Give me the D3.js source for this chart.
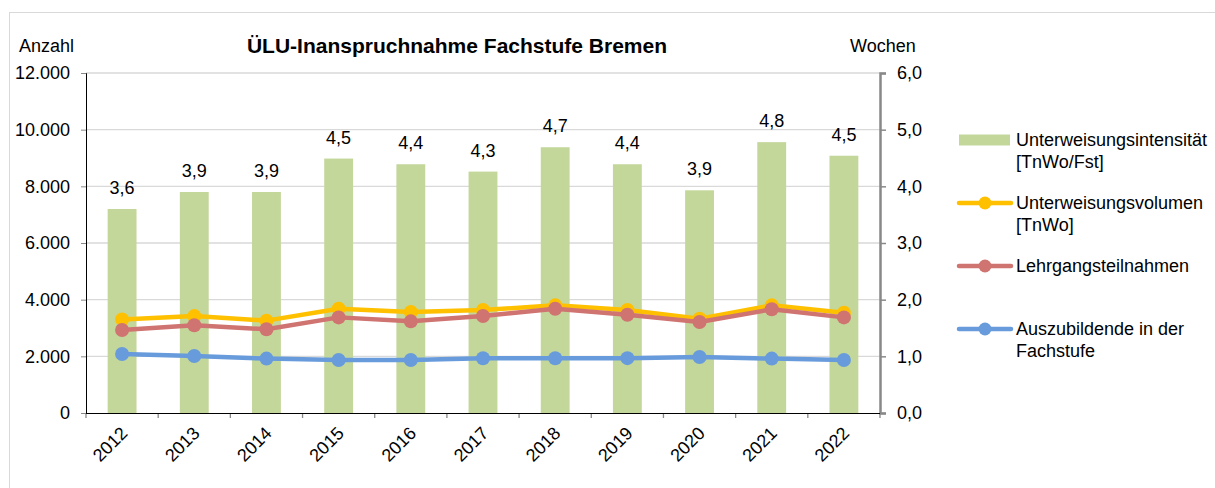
<!DOCTYPE html>
<html>
<head>
<meta charset="utf-8">
<script src="https://cdn.jsdelivr.net/npm/d3@7"></script>
<style>
  body { margin: 0; background: #fff; }
  text { font-family: "Liberation Sans", Arial, sans-serif; fill: #000; }
</style>
</head>
<body>
<div id="chart"></div>
<script>
// data
const years = ["2012", "2013", "2014", "2015", "2016", "2017", "2018", "2019", "2020", "2021", "2022"];
const intensitaet = [3.6, 3.9, 3.9, 4.49, 4.39, 4.26, 4.69, 4.39, 3.93, 4.78, 4.54];
const volumen = [3300, 3420, 3260, 3680, 3565, 3635, 3800, 3635, 3330, 3800, 3540];
const teilnahmen = [2930, 3095, 2955, 3375, 3235, 3425, 3680, 3470, 3210, 3660, 3375];
const azubis = [2080, 2010, 1920, 1870, 1870, 1930, 1930, 1935, 1975, 1920, 1870];
const leftTicks = [0, 2000, 4000, 6000, 8000, 10000, 12000];
const rightTicks = [0, 1, 2, 3, 4, 5, 6];

const W = 1215, H = 488;
const margin = { top: 73, right: 335, bottom: 75, left: 86 };
const width = W - margin.left - margin.right;
const height = H - margin.top - margin.bottom;

const de = d3.formatLocale({ decimal: ",", thousands: ".", grouping: [3], currency: ["", "€"] });
const fmtInt = de.format(",.0f");
const fmt1 = de.format(".1f");
const FS = "18px";

const svg = d3.select("#chart")
  .append("svg")
    .attr("width", W)
    .attr("height", H);

// chart border
svg.append("rect")
  .attr("x", 9.5).attr("y", 12.5)
  .attr("width", W).attr("height", H)
  .attr("fill", "none")
  .attr("stroke", "#d9d9d9");

const g = svg.append("g")
  .attr("transform", `translate(${margin.left}, ${margin.top})`);

const x = d3.scaleBand().domain(years).range([0, width]).paddingInner(0.6).paddingOuter(0.3);
const xc = d => x(d) + x.bandwidth() / 2;
const y = d3.scaleLinear().domain([0, 12000]).range([height, 0]);
const y2 = d3.scaleLinear().domain([0, 6]).range([height, 0]);

// gridlines
g.append("g")
  .selectAll("line")
  .data(leftTicks.slice(1))
  .join("line")
    .attr("x1", 0).attr("x2", width)
    .attr("y1", d => y(d)).attr("y2", d => y(d))
    .attr("stroke", "#d9d9d9")
    .attr("stroke-width", 1.3);

// bars
g.append("g")
  .selectAll("rect")
  .data(intensitaet)
  .join("rect")
    .attr("x", (d, i) => x(years[i]))
    .attr("y", d => y2(d))
    .attr("width", x.bandwidth())
    .attr("height", d => height - y2(d))
    .attr("fill", "#c4d79b");

g.append("g")
  .selectAll("text")
  .data(intensitaet)
  .join("text")
    .attr("x", (d, i) => xc(years[i]))
    .attr("y", d => y2(d) - 15)
    .attr("text-anchor", "middle")
    .style("font-size", FS)
    .text(d => fmt1(d));

// lines
const seriesList = [
  { values: volumen, color: "#ffc000" },
  { values: teilnahmen, color: "#cf7470" },
  { values: azubis, color: "#689bdb" }
];
const line = d3.line().x((d, i) => xc(years[i])).y(d => y(d));
seriesList.forEach(s => {
  g.append("path")
    .datum(s.values)
    .attr("fill", "none")
    .attr("stroke", s.color)
    .attr("stroke-width", 4.5)
    .attr("stroke-linejoin", "round")
    .attr("d", line);
  g.append("g")
    .selectAll("circle")
    .data(s.values)
    .join("circle")
      .attr("cx", (d, i) => xc(years[i]))
      .attr("cy", d => y(d))
      .attr("r", 7)
      .attr("fill", s.color);
});

// left axis
const yAxis = g.append("g")
  .call(d3.axisLeft(y).tickValues(leftTicks).tickSize(5).tickPadding(11).tickFormat(fmtInt));
yAxis.select(".domain").attr("stroke", "#000");
yAxis.selectAll(".tick line").attr("stroke", "#888");
yAxis.selectAll("text").style("font-size", FS).style("font-family", "Liberation Sans, Arial, sans-serif");

// right axis
const y2Axis = g.append("g")
  .attr("transform", `translate(${width}, 0)`)
  .call(d3.axisRight(y2).tickValues(rightTicks).tickSize(6).tickPadding(11).tickFormat(fmt1));
y2Axis.select(".domain").attr("stroke", "#888").attr("stroke-width", 2.5);
y2Axis.selectAll(".tick line").attr("stroke", "#888").attr("stroke-width", 1.5);
y2Axis.selectAll("text").style("font-size", FS).style("font-family", "Liberation Sans, Arial, sans-serif");

// bottom axis
const boundaries = d3.range(years.length + 1).map(i => i * width / years.length);
g.append("g")
  .selectAll("line")
  .data(boundaries)
  .join("line")
    .attr("x1", d => d).attr("x2", d => d)
    .attr("y1", height).attr("y2", height + 5)
    .attr("stroke", "#888")
    .attr("stroke-width", 1.3);
g.append("line")
  .attr("x1", 0).attr("x2", width)
  .attr("y1", height + 0.5).attr("y2", height + 0.5)
  .attr("stroke", "#000");
g.append("g")
  .selectAll("text")
  .data(years)
  .join("text")
    .attr("transform", d => `translate(${xc(d) + 2}, ${height + 17}) rotate(-45)`)
    .attr("text-anchor", "end")
    .attr("dy", "0.35em")
    .style("font-size", FS)
    .text(d => d);

// titles
svg.append("text")
  .attr("x", 457).attr("y", 53)
  .attr("text-anchor", "middle")
  .style("font-size", "21px")
  .style("font-weight", "bold")
  .text("ÜLU-Inanspruchnahme Fachstufe Bremen");
svg.append("text")
  .attr("x", 19).attr("y", 52)
  .style("font-size", FS)
  .text("Anzahl");
svg.append("text")
  .attr("x", 850).attr("y", 52)
  .style("font-size", FS)
  .text("Wochen");

// legend
const legendItems = [
  { type: "bar", color: "#c4d79b", lines: ["Unterweisungsintensität", "[TnWo/Fst]"], y: 140 },
  { type: "line", color: "#ffc000", lines: ["Unterweisungsvolumen", "[TnWo]"], y: 203 },
  { type: "line", color: "#cf7470", lines: ["Lehrgangsteilnahmen"], y: 266 },
  { type: "line", color: "#689bdb", lines: ["Auszubildende in der", "Fachstufe"], y: 329 }
];
const lg = svg.append("g");
legendItems.forEach(it => {
  if (it.type === "bar") {
    lg.append("rect")
      .attr("x", 959).attr("y", it.y - 5.5)
      .attr("width", 51).attr("height", 11)
      .attr("fill", it.color);
  } else {
    lg.append("line")
      .attr("x1", 959).attr("x2", 1011)
      .attr("y1", it.y).attr("y2", it.y)
      .attr("stroke", it.color)
      .attr("stroke-width", 4.5)
      .attr("stroke-linecap", "round");
    lg.append("circle")
      .attr("cx", 985).attr("cy", it.y)
      .attr("r", 6.5)
      .attr("fill", it.color);
  }
  it.lines.forEach((t, k) => {
    lg.append("text")
      .attr("x", 1016).attr("y", it.y + k * 22)
      .attr("dy", "0.35em")
      .style("font-size", FS)
      .text(t);
  });
});
</script>
</body>
</html>
